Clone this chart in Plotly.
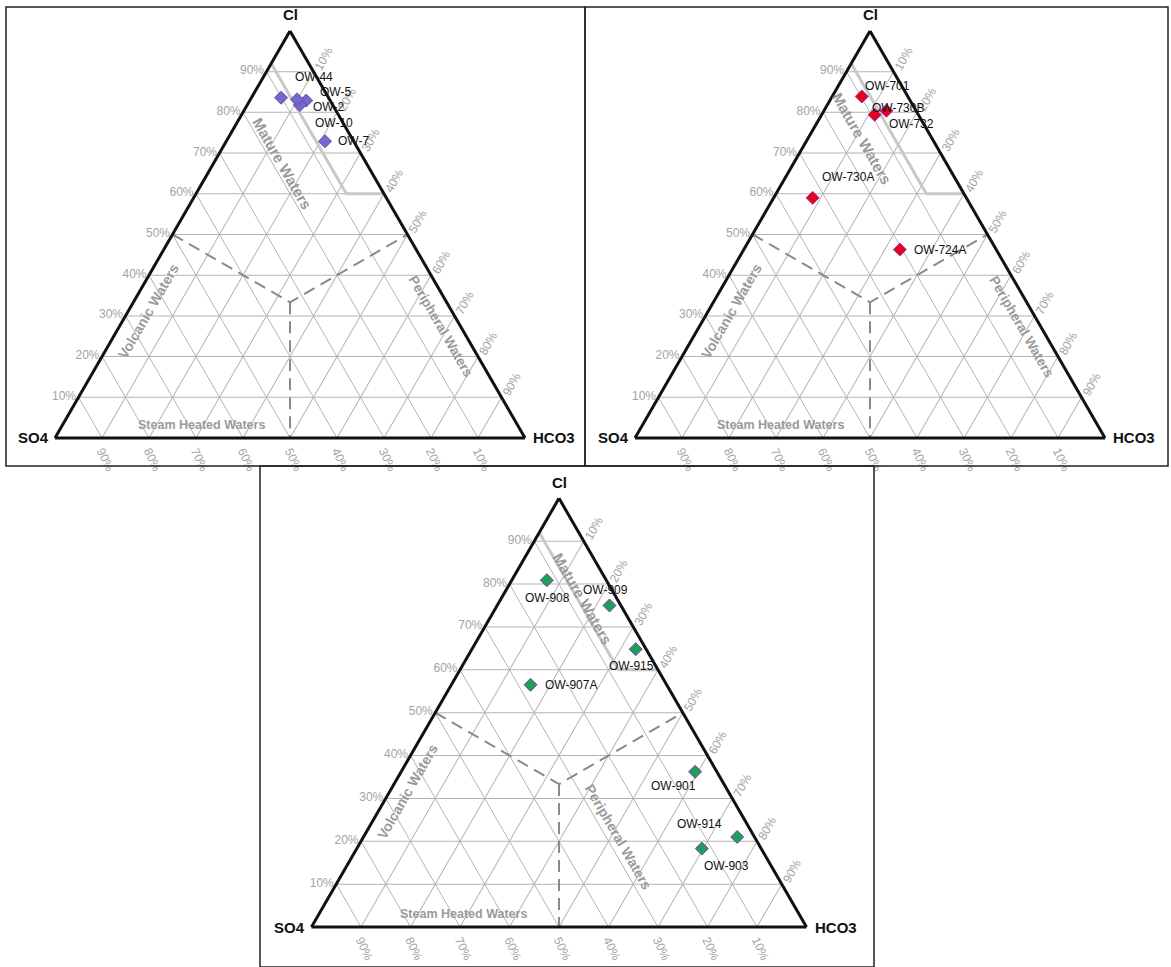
import math
import plotly.graph_objects as go

W, H = 1171, 967

# ---- sample data: Cl / SO4 / HCO3 (%) ----
names_a = ["OW-44", "OW-5", "OW-2", "OW-10", "OW-7"]
cl_a = [83.6, 82.9, 81.8, 83.2, 72.9]
so4_a = [10.1, 5.1, 7.0, 6.9, 6.1]
hco3_a = [6.3, 12.0, 11.2, 9.9, 21.0]

names_b = ["OW-701", "OW-730B", "OW-732", "OW-730A", "OW-724A"]
cl_b = [83.9, 79.4, 80.4, 59.0, 46.3]
so4_b = [9.8, 9.3, 6.3, 32.7, 20.5]
hco3_b = [6.3, 11.3, 13.3, 8.3, 33.2]

names_c = ["OW-908", "OW-909", "OW-915", "OW-907A", "OW-901", "OW-914", "OW-903"]
cl_c = [80.9, 75.0, 64.8, 56.5, 36.2, 21.0, 18.3]
so4_c = [12.0, 2.3, 2.1, 27.5, 4.4, 3.5, 12.0]
hco3_c = [7.1, 22.7, 33.1, 16.0, 59.4, 75.5, 69.7]

tick_values = [10, 20, 30, 40, 50, 60, 70, 80, 90]
tick_labels = [f"{v}%" for v in tick_values]

# ---- field boundaries (Cl, SO4, HCO3) ----
mature_cl = [92, 60, 60]
mature_so4 = [8, 8, 0]
mature_hco3 = [0, 32, 40]
centre = 100 / 3
dash_cl = [50, centre, 50]
dash_so4 = [50, centre, 0]
dash_hco3 = [0, centre, 50]
stem_cl = [centre, 0]
stem_so4 = [centre, 50]
stem_hco3 = [centre, 50]

# ---- panel geometry (pixels) ----
S3 = math.sqrt(3) / 2
panels = [
    dict(name="ternary", x0=55, side=470, base=438),
    dict(name="ternary2", x0=635, side=470, base=438),
    dict(name="ternary3", x0=311.5, side=495, base=927),
]
for p in panels:
    p["h"] = p["side"] * S3
    p["y0"] = p["base"] - p["h"]

# well-name label offsets in pixels (dx to label's left edge, dy downwards)
label_offsets = [
    [(12, -21), (12, -9), (11, 2), (16, 24), (11, 0)],
    [(1, -11), (-5, -7), (1, 13), (7, -21), (12, 0)],
    [(-24, 18), (-28, -15), (-29, 17), (12, 0), (-46, 14), (-62, -13), (0, 17)],
]

series = [
    (names_a, cl_a, so4_a, hco3_a, "#6b6bd0"),
    (names_b, cl_b, so4_b, hco3_b, "#e8001c"),
    (names_c, cl_c, so4_c, hco3_c, "#1ba05a"),
]

# region label placement per panel: (text, Cl, HCO3, angle, size)
region_labels = [
    [("Mature Waters", 67.5, 14.6, 60, 15), ("Volcanic Waters", 31.2, 4.3, -60, 14),
     ("Peripheral Waters", 27.5, 68.4, 60, 13.5), ("Steam Heated Waters", 3.3, 29.5, 0, 12.5)],
    [("Mature Waters", 73.7, 11.5, 60, 15), ("Volcanic Waters", 31.2, 4.9, -60, 14),
     ("Peripheral Waters", 27.5, 68.5, 60, 13.5), ("Steam Heated Waters", 3.3, 29.3, 0, 12.5)],
    [("Mature Waters", 76.6, 16.4, 60, 15), ("Volcanic Waters", 31.7, 3.6, -60, 14),
     ("Peripheral Waters", 21.0, 51.5, 60, 14), ("Steam Heated Waters", 3.1, 29.2, 0, 12.5)],
]


def to_paper(p, a, c):
    x = p["x0"] + p["side"] * (c + a / 2) / 100
    y = p["y0"] + p["h"] * (1 - a / 100)
    return x / W, 1 - y / H


fig = go.Figure()
FONT = "Liberation Sans, Arial, sans-serif"
TICK_GREY = "#a3a3a3"

for idx, (p, (nm, cl, so4, hco3, col)) in enumerate(zip(panels, series)):
    sub = p["name"]
    fig.add_trace(go.Scatterternary(
        a=mature_cl, b=mature_so4, c=mature_hco3, mode="lines",
        line=dict(color="#c8c8c8", width=3), subplot=sub,
        hoverinfo="skip", showlegend=False))
    for aa, bb, cc in [(dash_cl, dash_so4, dash_hco3), (stem_cl, stem_so4, stem_hco3)]:
        fig.add_trace(go.Scatterternary(
            a=aa, b=bb, c=cc, mode="lines",
            line=dict(color="#8a8a8a", width=2, dash="12px,7px"), subplot=sub,
            hoverinfo="skip", showlegend=False))
    fig.add_trace(go.Scatterternary(
        a=cl, b=so4, c=hco3, text=nm, mode="markers",
        marker=dict(symbol="diamond", size=10, color=col,
                    line=dict(color="#8a3aa8", width=1)),
        cliponaxis=False, subplot=sub, showlegend=False))

    # well-name labels anchored at each sample's position
    for name, a_val, s_val, c_val, (dx, dy) in zip(nm, cl, so4, hco3, label_offsets[idx]):
        tot = a_val + s_val + c_val
        px, py = to_paper(p, 100 * a_val / tot, 100 * c_val / tot)
        fig.add_annotation(x=px, y=py, xref="paper", yref="paper", text=name,
                           showarrow=False, xanchor="left", yanchor="middle",
                           xshift=dx, yshift=-dy,
                           font=dict(family=FONT, size=12, color="#111"))

    axis_common = dict(
        tickmode="array", tickvals=tick_values, ticktext=tick_labels, ticks="",
        tickfont=dict(family=FONT, size=12, color=TICK_GREY),
        showgrid=True, gridcolor="#b4b4b4", gridwidth=1,
        showline=True, linecolor="#111", linewidth=3, title=dict(text=""),
    )
    p_dom_x = [p["x0"] / W, (p["x0"] + p["side"]) / W]
    p_dom_y = [1 - p["base"] / H, 1 - p["y0"] / H]
    fig.update_layout(**{sub: dict(
        domain=dict(x=p_dom_x, y=p_dom_y), sum=100, bgcolor="white",
        aaxis=dict(**axis_common, tickangle=0),
        baxis=dict(**axis_common, tickangle=65),
        caxis=dict(**axis_common, tickangle=-60),
    )})

    # corner titles
    ax_, ay_ = to_paper(p, 100, 0)
    fig.add_annotation(x=ax_, y=ay_ + 16 / H, text="<b>Cl</b>", showarrow=False,
                       xref="paper", yref="paper", xanchor="center", yanchor="middle",
                       font=dict(family=FONT, size=15, color="#111"))
    bx_, by_ = to_paper(p, 0, 0)
    fig.add_annotation(x=bx_ - 4 / W, y=by_, text="<b>SO4</b>", showarrow=False,
                       xref="paper", yref="paper", xanchor="right", yanchor="middle",
                       font=dict(family=FONT, size=15, color="#111"))
    cx_, cy_ = to_paper(p, 0, 100)
    fig.add_annotation(x=cx_ + 6 / W, y=cy_, text="<b>HCO3</b>", showarrow=False,
                       xref="paper", yref="paper", xanchor="left", yanchor="middle",
                       font=dict(family=FONT, size=15, color="#111"))

    for txt, la, lc, ang, sz in region_labels[idx]:
        lx, ly = to_paper(p, la, lc)
        fig.add_annotation(x=lx, y=ly, text=f"<b>{txt}</b>", showarrow=False,
                           xref="paper", yref="paper", textangle=ang,
                           xanchor="center", yanchor="middle",
                           font=dict(family=FONT, size=sz, color="#9a9a9a"))

# panel frames
frames = [(6, 7, 585, 466), (585, 7, 1168, 466), (260, 466, 874, 967)]
for x0, y0, x1, y1 in frames:
    fig.add_shape(type="rect", xref="paper", yref="paper",
                  x0=x0 / W, x1=x1 / W, y0=1 - y1 / H, y1=1 - y0 / H,
                  line=dict(color="#222", width=1.5), fillcolor="rgba(0,0,0,0)")

fig.update_layout(width=W, height=H, margin=dict(l=0, r=0, t=0, b=0),
                  paper_bgcolor="white", plot_bgcolor="white", showlegend=False)

fig.write_html("out.html")
